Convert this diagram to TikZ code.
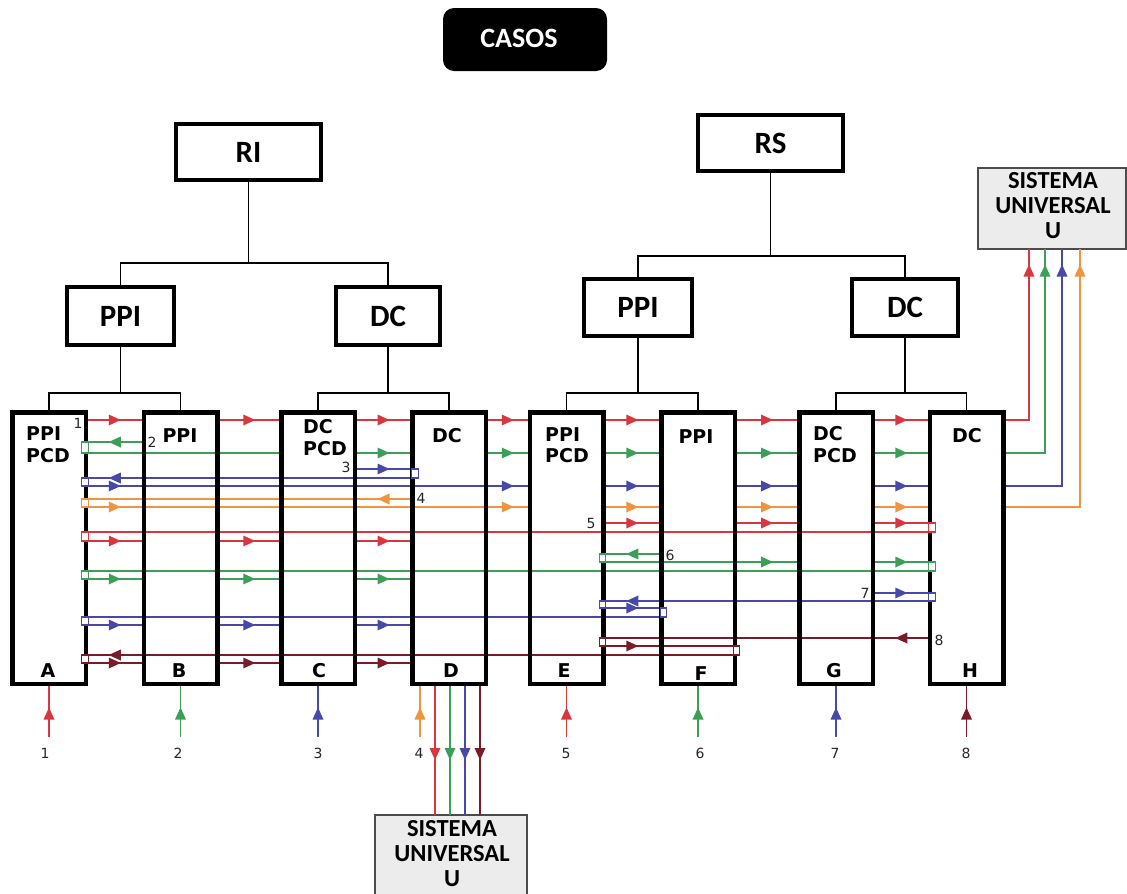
\documentclass[tikz,border=0pt]{standalone}
\usepackage{fontspec}
\setmainfont{DejaVu Sans}
\newfontfamily\calib{Carlito}
\usetikzlibrary{arrows.meta,decorations.markings}
\definecolor{cred}{HTML}{D8373F}
\definecolor{cgreen}{HTML}{3C9F58}
\definecolor{cblue}{HTML}{4848A8}
\definecolor{corange}{HTML}{EF9440}
\definecolor{cdark}{HTML}{7A1B2A}
\definecolor{sugray}{HTML}{ECECEC}
\newcommand\fw[4]{\draw[wire,#1,arr] (#2.east |- #4) -- (#3.west |- #4);}
\newcommand\bw[4]{\draw[wire,#1,arr] (#2.west |- #4) -- (#3.east |- #4);}
\newcommand\brk[5]{\draw[brkst,draw=#1] (#2 |- #3) rectangle (#4 |- #5);}
\begin{document}
\begin{tikzpicture}[x=1pt,y=-1pt,
 tbox/.style={draw,line width=4pt,fill=white,outer sep=0pt,inner sep=0pt,minimum height=57pt,font=\calib\bfseries\fontsize{31}{33}\selectfont},
 lbox/.style={fill=white,outer sep=0pt,inner sep=0pt,minimum width=73.5pt,minimum height=271.5pt},
 lborder/.style={line width=4.5pt},
 tree/.style={line width=1.3pt},
 wire/.style={line width=1.4pt},
 arr/.style={postaction={decorate,decoration={markings,mark=at position 0.5 with {\fill (6pt,0pt) -- (-6pt,5.5pt) -- (-6pt,-5.5pt) -- cycle;}}}},
 brkst/.style={fill=white,line width=1.1pt},
 blab/.style={font=\bfseries\fontsize{19}{21}\selectfont,inner sep=0pt},
 num/.style={font=\fontsize{14}{16}\selectfont,inner sep=0pt,anchor=base,text=black!85},
 sys/.style={draw=black!70,fill=sugray,line width=1.5pt,outer sep=0pt,inner sep=0pt},
 systext/.style={font=\calib\bfseries\fontsize{24.5}{25}\selectfont,align=center,inner sep=0pt},
]
\useasboundingbox[fill=white] (0,0) rectangle (1127,894);

% ---------- title ----------
\node[fill=black,rounded corners=11pt,minimum width=164pt,minimum height=63pt,inner sep=0pt,outer sep=0pt] (CASOS) at (525,39.5) {};
\node[font=\calib\bfseries\fontsize{28}{30}\selectfont,text=white,anchor=base,inner sep=0pt] (CASOSt) at (519,47) {CASOS};

% ---------- upper hierarchy ----------
\node[tbox,minimum width=145pt,minimum height=56pt] (RI) at (248.5,152) {RI};
\node[tbox,minimum width=145pt,minimum height=56pt] (RS) at (770.5,143) {RS};
\node[tbox,minimum width=107pt,minimum height=58pt] (PPI1) at (120.5,316) {PPI};
\node[tbox,minimum width=104pt,minimum height=58pt] (DC1) at (388,316) {DC};
\node[tbox,minimum width=108pt] (PPI2) at (638,307.5) {PPI};
\node[tbox,minimum width=106pt] (DC2) at (905,307.5) {DC};

\coordinate (t1) at (0,263);
\coordinate (t2) at (0,256);
\coordinate (b1) at (0,393);
\draw[tree] (RI.south) -- (RI.south |- t1);
\draw[tree] (PPI1.north) -- (PPI1.north |- t1) -- (DC1.north |- t1) -- (DC1.north);
\draw[tree] (RS.south) -- (RS.south |- t2);
\draw[tree] (PPI2.north) -- (PPI2.north |- t2) -- (DC2.north |- t2) -- (DC2.north);

% ---------- universal systems ----------
\node[sys,minimum width=148pt,minimum height=81pt] (SU) at (1052,208.5) {};
\node[systext] (SUt) at (1053,206) {SISTEMA\\UNIVERSAL\\U};
\node[sys,minimum width=152pt,minimum height=90pt] (SB) at (451,860) {};
\node[systext] (SBt) at (452,854) {SISTEMA\\UNIVERSAL\\U};

% ---------- lower boxes (fill) ----------
\node[lbox] (A) at (49,548) {};
\node[lbox] (B) at (180.5,548) {};
\node[lbox] (C) at (318,548) {};
\node[lbox] (D) at (449,548) {};
\node[lbox] (E) at (566.5,548) {};
\node[lbox] (F) at (698,548) {};
\node[lbox] (G) at (836,548) {};
\node[lbox] (H) at (966.5,548) {};

\draw[tree] (PPI1.south) -- (PPI1.south |- b1);
\draw[tree] (A.north) -- (A.north |- b1) -- (B.north |- b1) -- (B.north);
\draw[tree] (DC1.south) -- (DC1.south |- b1);
\draw[tree] (C.north) -- (C.north |- b1) -- (D.north |- b1) -- (D.north);
\draw[tree] (PPI2.south) -- (PPI2.south |- b1);
\draw[tree] (E.north) -- (E.north |- b1) -- (F.north |- b1) -- (F.north);
\draw[tree] (DC2.south) -- (DC2.south |- b1);
\draw[tree] (G.north) -- (G.north |- b1) -- (H.north |- b1) -- (H.north);

% ---------- rows ----------
\coordinate (r1) at (0,420);
\coordinate (g2a) at (0,442); \coordinate (g2b) at (0,453);
\coordinate (b3a) at (0,469); \coordinate (b3b) at (0,478); \coordinate (b3c) at (0,486);
\coordinate (o4a) at (0,499); \coordinate (o4b) at (0,507);
\coordinate (r5a) at (0,523); \coordinate (r5b) at (0,532); \coordinate (r5c) at (0,541);
\coordinate (g6a) at (0,554); \coordinate (g6b) at (0,562); \coordinate (g6c) at (0,571); \coordinate (g6d) at (0,579);
\coordinate (b7a) at (0,593); \coordinate (b7b) at (0,601); \coordinate (b7c) at (0,608); \coordinate (b7d) at (0,617); \coordinate (b7e) at (0,625);
\coordinate (d8a) at (0,638); \coordinate (d8b) at (0,646); \coordinate (d8c) at (0,655); \coordinate (d8d) at (0,663);

% bracket x positions
\coordinate (Ai) at ([xshift=-4pt]A.east);  \coordinate (Ao) at ([xshift=2.5pt]A.east);
\coordinate (Dlo) at ([xshift=-0.5pt]D.west); \coordinate (Dli) at ([xshift=6pt]D.west);
\coordinate (Ei) at ([xshift=-4pt]E.east);  \coordinate (Eo) at ([xshift=2.5pt]E.east);
\coordinate (Flo) at ([xshift=-1pt]F.west); \coordinate (Fli) at ([xshift=5pt]F.west);
\coordinate (Fri) at ([xshift=-1pt]F.east); \coordinate (Fro) at ([xshift=5pt]F.east);
\coordinate (Hlo) at ([xshift=-1pt]H.west); \coordinate (Hli) at ([xshift=5.5pt]H.west);

% exits to the universal systems
\coordinate (u1) at ([xshift=-23pt]SU.south);
\coordinate (u2) at ([xshift=-7pt]SU.south);
\coordinate (u3) at ([xshift=10pt]SU.south);
\coordinate (u4) at ([xshift=28pt]SU.south);
\coordinate (ua1) at (0,280); \coordinate (ua2) at (0,261);

% ---------- case 1 (red) ----------
\foreach \p/\q in {A/B,B/C,C/D,D/E,E/F,F/G,G/H} {\fw{cred}{\p}{\q}{r1}}
\draw[wire,cred] (H.east |- r1) -| (u1);

% ---------- case 2 (green) ----------
\bw{cgreen}{B}{A}{g2a}
\draw[wire,cgreen] (A.east |- g2b) -- (C.west |- g2b);
\foreach \p/\q in {C/D,D/E,E/F,F/G,G/H} {\fw{cgreen}{\p}{\q}{g2b}}
\draw[wire,cgreen] (H.east |- g2b) -| (u2);

% ---------- case 3 (blue) ----------
\fw{cblue}{C}{D}{b3a}
\draw[wire,cblue] (Dli |- b3b) -- (Ai |- b3b);
\bw{cblue}{B}{A}{b3b}
\draw[wire,cblue] (A.east |- b3c) -- (E.west |- b3c);
\foreach \p/\q in {A/B,D/E,E/F,F/G,G/H} {\fw{cblue}{\p}{\q}{b3c}}
\draw[wire,cblue] (H.east |- b3c) -| (u3);

% ---------- case 4 (orange) ----------
\draw[wire,corange] (D.west |- o4a) -- (Ai |- o4a);
\bw{corange}{D}{C}{o4a}
\draw[wire,corange] (A.east |- o4b) -- (E.west |- o4b);
\foreach \p/\q in {A/B,D/E,E/F,F/G,G/H} {\fw{corange}{\p}{\q}{o4b}}
\draw[wire,corange] (H.east |- o4b) -| (u4);

% ---------- case 5 (red) ----------
\foreach \p/\q in {E/F,F/G,G/H} {\fw{cred}{\p}{\q}{r5a}}
\draw[wire,cred] (H.west |- r5b) -- (Ai |- r5b);
\foreach \p/\q in {A/B,B/C,C/D} {\fw{cred}{\p}{\q}{r5c}}

% ---------- case 6 (green) ----------
\bw{cgreen}{F}{E}{g6a}
\draw[wire,cgreen] (E.east |- g6b) -- (G.west |- g6b);
\foreach \p/\q in {F/G,G/H} {\fw{cgreen}{\p}{\q}{g6b}}
\draw[wire,cgreen] (H.west |- g6c) -- (Ai |- g6c);
\foreach \p/\q in {A/B,B/C,C/D} {\fw{cgreen}{\p}{\q}{g6d}}

% ---------- case 7 (blue) ----------
\fw{cblue}{G}{H}{b7a}
\draw[wire,cblue] (H.west |- b7b) -- (Ei |- b7b);
\bw{cblue}{F}{E}{b7b}
\fw{cblue}{E}{F}{b7c}
\draw[wire,cblue] (Fli |- b7d) -- (Ai |- b7d);
\foreach \p/\q in {A/B,B/C,C/D} {\fw{cblue}{\p}{\q}{b7e}}

% ---------- case 8 (dark red) ----------
\bw{cdark}{H}{G}{d8a}
\draw[wire,cdark] (G.east |- d8a) -- (Ei |- d8a);
\fw{cdark}{E}{F}{d8b}
\draw[wire,cdark] (F.west |- d8b) -- (Fri |- d8b);
\draw[wire,cdark] (Fri |- d8c) -- (Ai |- d8c);
\bw{cdark}{B}{A}{d8c}
\foreach \p/\q in {A/B,B/C,C/D} {\fw{cdark}{\p}{\q}{d8d}}

% ---------- inputs under boxes ----------
\coordinate (bot) at (0,737);
\coordinate (ia1) at (0,723); \coordinate (ia2) at (0,704);
\foreach \bx/\col in {A/cred,B/cgreen,C/cblue,E/cred,F/cgreen,G/cblue,H/cdark} {
  \draw[wire,\col] (\bx.south) -- (\bx.south |- bot);
  \draw[wire,\col,arr] (\bx.south |- ia1) -- (\bx.south |- ia2);
}
\coordinate (dor) at ([xshift=-29pt]D.south);
\draw[wire,corange] (dor) -- (dor |- bot);
\draw[wire,corange,arr] (dor |- ia1) -- (dor |- ia2);

% ---------- D to lower universal system ----------
\coordinate (da1) at (0,744); \coordinate (da2) at (0,764);
\foreach \dx/\col in {-14/cred,1/cgreen,16/cblue,31/cdark} {
  \coordinate (dd) at ([xshift=\dx pt]D.south);
  \draw[wire,\col] (dd) -- (dd |- SB.north);
  \draw[wire,\col,arr] (dd |- da1) -- (dd |- da2);
}

% ---------- up arrows into upper universal system ----------
\foreach \u/\col in {u1/cred,u2/cgreen,u3/cblue,u4/corange} {
  \draw[wire,\col,arr] (\u |- ua1) -- (\u |- ua2);
}

% ---------- lower box borders ----------
\foreach \bx in {A,B,C,D,E,F,G,H} {
  \draw[lborder] (\bx.south west) rectangle (\bx.north east);
}

% ---------- brackets ----------
\brk{cgreen}{Ai}{g2a}{Ao}{g2b}
\brk{cblue}{Dlo}{b3a}{Dli}{b3b}
\brk{cblue}{Ai}{b3b}{Ao}{b3c}
\brk{corange}{Ai}{o4a}{Ao}{o4b}
\brk{cred}{Hlo}{r5a}{Hli}{r5b}
\brk{cred}{Ai}{r5b}{Ao}{r5c}
\brk{cgreen}{Ei}{g6a}{Eo}{g6b}
\brk{cgreen}{Hlo}{g6b}{Hli}{g6c}
\brk{cgreen}{Ai}{g6c}{Ao}{g6d}
\brk{cblue}{Hlo}{b7a}{Hli}{b7b}
\brk{cblue}{Ei}{b7b}{Eo}{b7c}
\brk{cblue}{Flo}{b7c}{Fli}{b7d}
\brk{cblue}{Ai}{b7d}{Ao}{b7e}
\brk{cdark}{Ei}{d8a}{Eo}{d8b}
\brk{cdark}{Fri}{d8b}{Fro}{d8c}
\brk{cdark}{Ai}{d8c}{Ao}{d8d}

% ---------- box labels ----------
\node[blab,anchor=base west] (A1) at (26,440) {PPI};
\node[blab,anchor=base west] (A2) at (26,462) {PCD};
\node[blab,anchor=base] (AL) at (48,677) {A};
\node[blab,anchor=base] (B1) at (180,442) {PPI};
\node[blab,anchor=base] (BL) at (179,677) {B};
\node[blab,anchor=base west] (C1) at (303,433) {DC};
\node[blab,anchor=base west] (C2) at (303,455) {PCD};
\node[blab,anchor=base] (CL) at (319,677) {C};
\node[blab,anchor=base] (D1) at (447,442) {DC};
\node[blab,anchor=base] (DL) at (451,677) {D};
\node[blab,anchor=base west] (E1) at (545,441) {PPI};
\node[blab,anchor=base west] (E2) at (545,462) {PCD};
\node[blab,anchor=base] (EL) at (564,677) {E};
\node[blab,anchor=base] (F1) at (696,443) {PPI};
\node[blab,anchor=base] (FL) at (701,680) {F};
\node[blab,anchor=base west] (G1) at (813,440) {DC};
\node[blab,anchor=base west] (G2) at (813,462) {PCD};
\node[blab,anchor=base] (GL) at (834,677) {G};
\node[blab,anchor=base] (H1) at (967,442) {DC};
\node[blab,anchor=base] (HL) at (970,677) {H};

% ---------- case numbers ----------
\node[num] (n1) at (78,428) {1};
\node[num] (n2) at (152,447) {2};
\node[num] (n3) at (346,472) {3};
\node[num] (n4) at (421,503) {4};
\node[num] (n5) at (591,528) {5};
\node[num] (n6) at (670,560) {6};
\node[num] (n7) at (865,598) {7};
\node[num] (n8) at (939,645) {8};
\node[num] (m1) at (45,758) {1};
\node[num] (m2) at (178,758) {2};
\node[num] (m3) at (318,758) {3};
\node[num] (m4) at (419,758) {4};
\node[num] (m5) at (566,758) {5};
\node[num] (m6) at (700,758) {6};
\node[num] (m7) at (835,758) {7};
\node[num] (m8) at (966,758) {8};
\end{tikzpicture}
\end{document}
